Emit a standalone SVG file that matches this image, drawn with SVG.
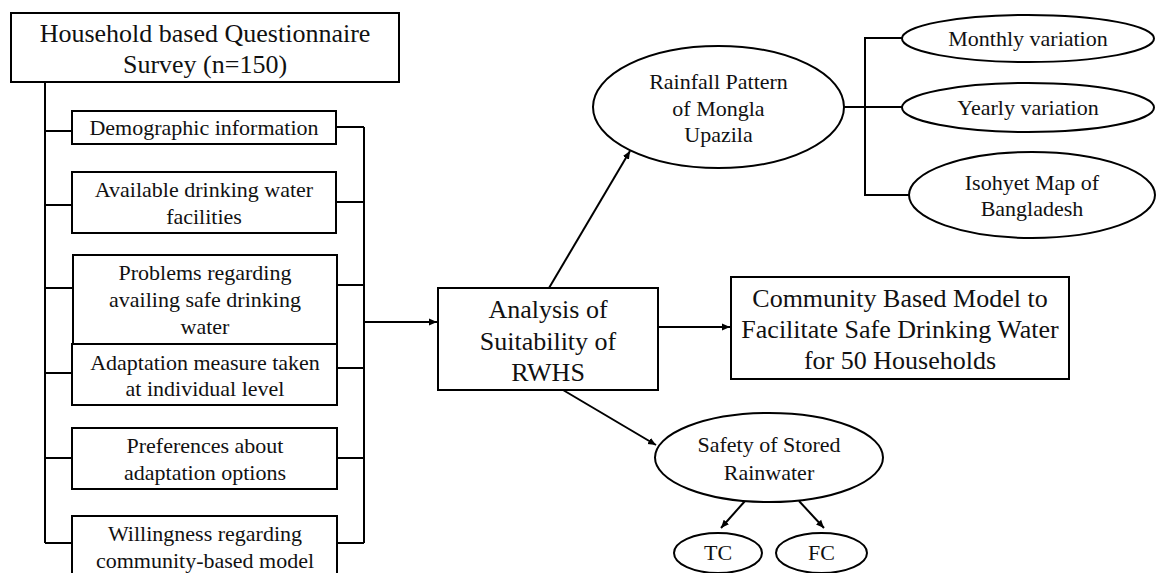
<svg xmlns="http://www.w3.org/2000/svg" width="1156" height="573" viewBox="0 0 1156 573">
<style>
.b{fill:#fff;stroke:#000;stroke-width:2}
.c{fill:none;stroke:#000;stroke-width:2}
text{font-family:"Liberation Serif","Times New Roman",serif;fill:#111;text-anchor:middle}
.s{font-size:22px}
.l{font-size:26px}
</style>
<defs>
<marker id="ah" markerUnits="userSpaceOnUse" markerWidth="9" markerHeight="8" refX="8" refY="4" orient="auto">
<path d="M0,0.5 L8,4 L0,7.5 Z" fill="#000"/>
</marker>
</defs>
<rect width="1156" height="573" fill="#fff"/>
<g id="connectors">
<polyline class="c" points="45,82 45,543"/>
<line class="c" x1="45" y1="131" x2="72" y2="131"/>
<line class="c" x1="45" y1="205" x2="72" y2="205"/>
<line class="c" x1="45" y1="288" x2="73" y2="288"/>
<line class="c" x1="45" y1="373" x2="72" y2="373"/>
<line class="c" x1="45" y1="458" x2="72" y2="458"/>
<line class="c" x1="45" y1="543" x2="72" y2="543"/>
<polyline class="c" points="364,127 364,543"/>
<line class="c" x1="336" y1="127" x2="364" y2="127"/>
<line class="c" x1="336" y1="202" x2="364" y2="202"/>
<line class="c" x1="337" y1="285" x2="364" y2="285"/>
<line class="c" x1="337" y1="368" x2="364" y2="368"/>
<line class="c" x1="337" y1="458" x2="364" y2="458"/>
<line class="c" x1="337" y1="543" x2="364" y2="543"/>
<line class="c" x1="364" y1="322" x2="437" y2="322" marker-end="url(#ah)"/>
<line class="c" x1="549" y1="288" x2="630" y2="151" marker-end="url(#ah)"/>
<line class="c" x1="658" y1="327" x2="730" y2="327" marker-end="url(#ah)"/>
<line class="c" x1="563" y1="390" x2="656" y2="445" marker-end="url(#ah)"/>
<line class="c" x1="745" y1="501" x2="721" y2="528" marker-end="url(#ah)"/>
<line class="c" x1="799" y1="501" x2="824" y2="528" marker-end="url(#ah)"/>
<line class="c" x1="844" y1="107" x2="902" y2="107"/>
<polyline class="c" points="902,38 865,38 865,195 909,195"/>
</g>
<g id="survey">
<rect class="b" x="11" y="13" width="388" height="69"/>
<text class="l" x="205" y="42">Household based Questionnaire</text>
<text class="l" x="205" y="73">Survey (n=150)</text>
</g>
<g id="demographic">
<rect class="b" x="72" y="111" width="264" height="33"/>
<text class="s" x="204" y="135">Demographic information</text>
</g>
<g id="facilities">
<rect class="b" x="72" y="172" width="264" height="61"/>
<text class="s" x="204" y="197">Available drinking water</text>
<text class="s" x="204" y="224">facilities</text>
</g>
<g id="problems">
<rect class="b" x="73" y="255" width="264" height="89"/>
<text class="s" x="205" y="280">Problems regarding</text>
<text class="s" x="205" y="307">availing safe drinking</text>
<text class="s" x="205" y="334">water</text>
</g>
<g id="adaptation">
<rect class="b" x="72" y="344" width="265" height="61"/>
<text class="s" x="205" y="370">Adaptation measure taken</text>
<text class="s" x="205" y="396">at individual level</text>
</g>
<g id="preferences">
<rect class="b" x="72" y="428" width="265" height="61"/>
<text class="s" x="205" y="453">Preferences about</text>
<text class="s" x="205" y="480">adaptation options</text>
</g>
<g id="willingness">
<rect class="b" x="72" y="516" width="265" height="70"/>
<text class="s" x="205" y="541">Willingness regarding</text>
<text class="s" x="205" y="568">community-based model</text>
</g>
<g id="analysis">
<rect class="b" x="438" y="288" width="220" height="102"/>
<text class="l" x="548" y="318">Analysis of</text>
<text class="l" x="548" y="350">Suitability of</text>
<text class="l" x="548" y="381">RWHS</text>
</g>
<g id="rainfall">
<ellipse class="b" cx="718.5" cy="107" rx="125.5" ry="61"/>
<text class="s" x="718.5" y="89">Rainfall Pattern</text>
<text class="s" x="718.5" y="116">of Mongla</text>
<text class="s" x="718.5" y="142">Upazila</text>
</g>
<g id="monthly">
<ellipse class="b" cx="1028" cy="38.5" rx="126" ry="23.5"/>
<text class="s" x="1028" y="46">Monthly variation</text>
</g>
<g id="yearly">
<ellipse class="b" cx="1028" cy="107.5" rx="126" ry="24.5"/>
<text class="s" x="1028" y="115">Yearly variation</text>
</g>
<g id="isohyet">
<ellipse class="b" cx="1032" cy="195" rx="123" ry="43"/>
<text class="s" x="1032" y="190">Isohyet Map of</text>
<text class="s" x="1032" y="216">Bangladesh</text>
</g>
<g id="community">
<rect class="b" x="731" y="277" width="338" height="102"/>
<text class="l" x="900" y="307">Community Based Model to</text>
<text class="l" x="900" y="338">Facilitate Safe Drinking Water</text>
<text class="l" x="900" y="369">for 50 Households</text>
</g>
<g id="safety">
<ellipse class="b" cx="769" cy="457.5" rx="114" ry="44.5"/>
<text class="s" x="769" y="452">Safety of Stored</text>
<text class="s" x="769" y="480">Rainwater</text>
</g>
<g id="tc">
<ellipse class="b" cx="718" cy="553" rx="44" ry="20"/>
<text class="s" x="718" y="560">TC</text>
</g>
<g id="fc">
<ellipse class="b" cx="821.5" cy="553" rx="45.5" ry="20"/>
<text class="s" x="821.5" y="560">FC</text>
</g>
</svg>
